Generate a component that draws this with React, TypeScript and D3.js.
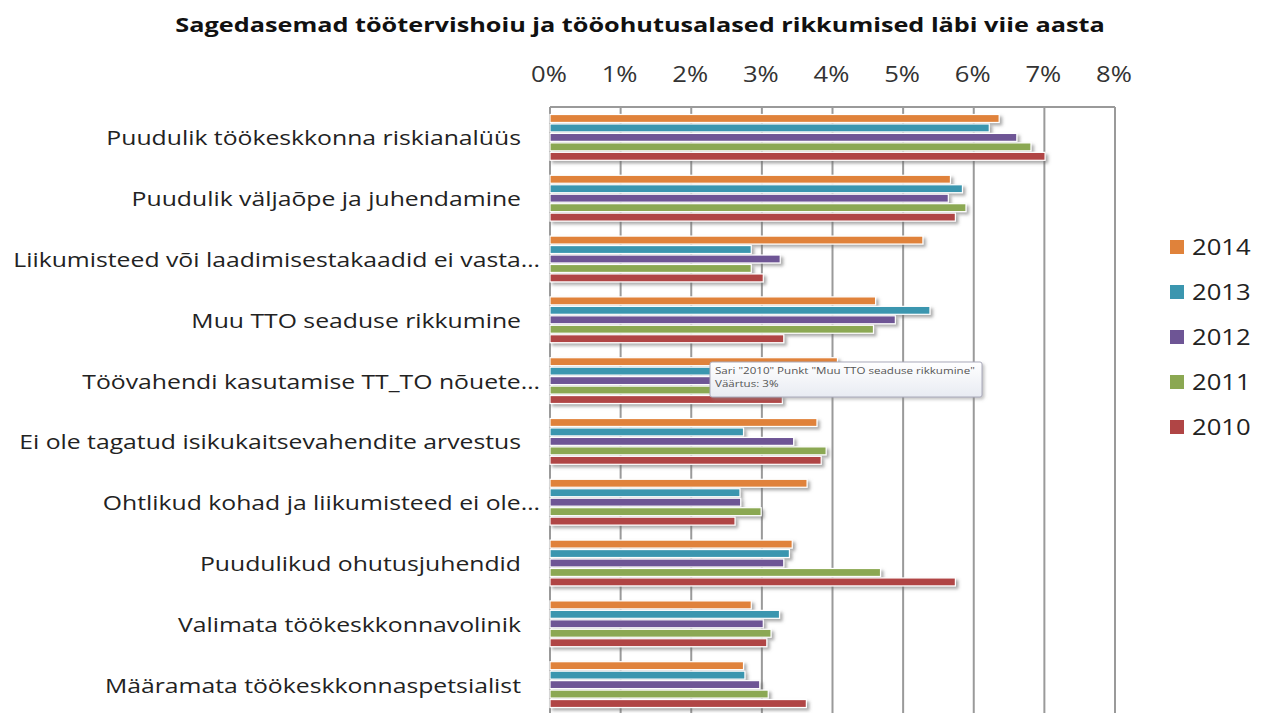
import React from "react";
import * as d3 from "d3";

const title = "Sagedasemad töötervishoiu ja tööohutusalased rikkumised läbi viie aasta";
const categories = [
  "Puudulik töökeskkonna riskianalüüs",
  "Puudulik väljaõpe ja juhendamine",
  "Liikumisteed või laadimisestakaadid ei vasta…",
  "Muu TTO seaduse rikkumine",
  "Töövahendi kasutamise TT_TO nõuete…",
  "Ei ole tagatud isikukaitsevahendite arvestus",
  "Ohtlikud kohad ja liikumisteed ei ole…",
  "Puudulikud ohutusjuhendid",
  "Valimata töökeskkonnavolinik",
  "Määramata töökeskkonnaspetsialist",
];
const years = ["2014", "2013", "2012", "2011", "2010"];
const v2014 = [6.36, 5.67, 5.28, 4.61, 4.07, 3.78, 3.64, 3.43, 2.85, 2.74];
const v2013 = [6.22, 5.84, 2.85, 5.38, 3.3, 2.74, 2.69, 3.39, 3.25, 2.76];
const v2012 = [6.61, 5.64, 3.26, 4.89, 3.0, 3.45, 2.7, 3.31, 3.02, 2.97];
const v2011 = [6.81, 5.89, 2.85, 4.58, 2.9, 3.91, 2.99, 4.68, 3.13, 3.09];
const v2010 = [7.01, 5.74, 3.02, 3.31, 3.29, 3.84, 2.62, 5.74, 3.07, 3.63];
const seriesValues = [v2014, v2013, v2012, v2011, v2010];
const colors = ["#E0823A", "#3B96AF", "#6E5595", "#8BA852", "#B04545"];
const ticks = [0, 1, 2, 3, 4, 5, 6, 7, 8];
const tooltipLines = ['Sari "2010" Punkt "Muu TTO seaduse rikkumine"', "Väärtus: 3%"];

const W = 1261;
const H = 713;
const left = 550;
const right = 1115;
const top = 107;
const bottom = 715;
const SX = 1.22;

function T(props: {
  x: number;
  y: number;
  anchor?: string;
  size: number;
  weight?: string;
  fill?: string;
  sx?: number;
  children: React.ReactNode;
}) {
  return (
    <text
      transform={`translate(${props.x},${props.y}) scale(${props.sx || SX},1)`}
      textAnchor={props.anchor || "start"}
      fontFamily="'Open Sans', sans-serif"
      fontSize={props.size}
      fontWeight={props.weight || "normal"}
      fill={props.fill || "#222"}
    >
      {props.children}
    </text>
  );
}

export default function App() {
  const x = d3.scaleLinear().domain([0, 8]).range([left, right]);
  const y = d3.scaleBand<string>().domain(categories).range([top, bottom]).padding(0);
  const bw = y.bandwidth();
  const yi = d3.scaleBand<string>().domain(years).range([7.5, bw - 7.5]).paddingInner(0.16);

  return (
    <svg width={W} height={H} style={{ position: "absolute", left: 0, top: 0, background: "#fff" }}>
      <defs>
        <filter id="sh" x="-5%" y="-50%" width="115%" height="250%">
          <feDropShadow dx="2.5" dy="2.5" stdDeviation="1.5" floodColor="#666" floodOpacity="0.55" />
        </filter>
        <filter id="tsh" x="-5%" y="-20%" width="115%" height="150%">
          <feDropShadow dx="2" dy="2" stdDeviation="1.5" floodColor="#888" floodOpacity="0.5" />
        </filter>
        <linearGradient id="tg" x1="0" y1="0" x2="0" y2="1">
          <stop offset="0" stopColor="#ffffff" />
          <stop offset="1" stopColor="#e8ebf2" />
        </linearGradient>
      </defs>
      <T x={640} y={32} anchor="middle" size={20.3} weight="bold" fill="#111" sx={1.245}>
        {title}
      </T>
      {ticks.map((t) => (
        <T key={"t" + t} x={x(t) - 1} y={82} anchor="middle" size={21} fill="#333">
          {t}%
        </T>
      ))}
      {ticks.map((t) => (
        <line key={"g" + t} x1={x(t)} x2={x(t)} y1={top} y2={H} stroke="#9a9a9a" strokeWidth={2} />
      ))}
      <line x1={x(0)} x2={x(8)} y1={top} y2={top} stroke="#9a9a9a" strokeWidth={2} />
      {categories.map((c, i) => (
        <g key={c}>
          {years.map((yr, j) => (
            <rect
              key={yr}
              x={x(0)}
              y={(y(c) as number) + (yi(yr) as number)}
              width={x(seriesValues[j][i]) - x(0)}
              height={yi.bandwidth()}
              fill={colors[j]}
              stroke="#fff"
              strokeWidth={1.2}
              filter="url(#sh)"
            />
          ))}
          <T x={c.endsWith("…") ? 540 : 521} y={(y(c) as number) + bw / 2 + 8} anchor="end" size={20.3}>
            {c}
          </T>
        </g>
      ))}
      {years.map((yr, j) => (
        <g key={"l" + yr}>
          <rect x={1170} y={240 + j * 45} width={14} height={14} fill={colors[j]} />
          <T x={1192} y={255 + j * 45} size={21}>
            {yr}
          </T>
        </g>
      ))}
      <g>
        <rect x={710} y={362} width={272} height={35} rx={2} fill="url(#tg)" stroke="#aab" strokeWidth={1} filter="url(#tsh)" />
        {tooltipLines.map((t, k) => (
          <T key={k} x={715} y={374 + k * 13} size={9.5} fill="#555">
            {t}
          </T>
        ))}
      </g>
    </svg>
  );
}
